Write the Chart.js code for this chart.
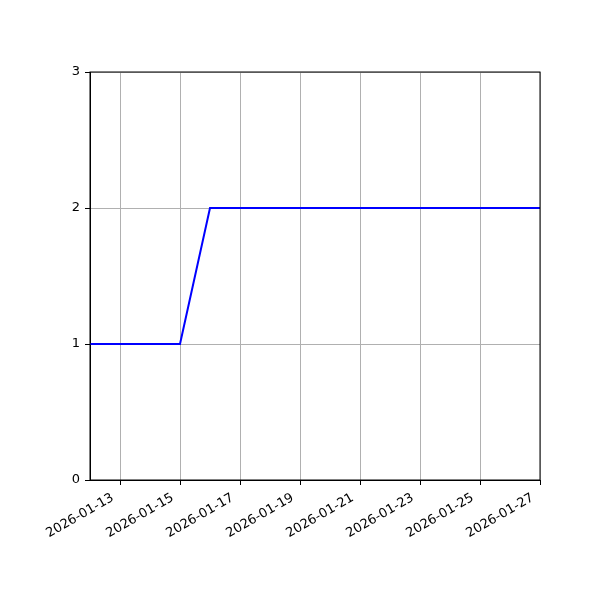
<!DOCTYPE html>
<html lang="en">
<head>
    <meta charset="UTF-8">
    <title>Step chart</title>
    <style>
        body { margin: 0; padding: 0; background: #fff; }
        .chart { width: 600px; height: 600px; }
    </style>
    <script src="https://cdn.jsdelivr.net/npm/chart.js"></script>
</head>
<body>
    <div class="chart">
        <canvas id="chartCanvas" width="600" height="600"></canvas>
    </div>

    <script>
        const dates = ['2026-01-12', '2026-01-13', '2026-01-14', '2026-01-15', '2026-01-16', '2026-01-17',
                       '2026-01-18', '2026-01-19', '2026-01-20', '2026-01-21', '2026-01-22', '2026-01-23',
                       '2026-01-24', '2026-01-25', '2026-01-26', '2026-01-27'];
        const values = [1, 1, 1, 1, 2, 2, 2, 2, 2, 2, 2, 2, 2, 2, 2, 2];
        const xTickLabels = ['2026-01-13', '2026-01-15', '2026-01-17', '2026-01-19',
                             '2026-01-21', '2026-01-23', '2026-01-25', '2026-01-27'];
        const yTicks = [0, 1, 2, 3];

        const toDay = d => Date.parse(d) / 86400000;
        const fromDay = n => new Date(n * 86400000).toISOString().slice(0, 10);

        const points = dates.map((d, i) => ({ x: toDay(d), y: values[i] }));

        // black box round the plot area
        const frame = {
            id: 'frame',
            afterDraw(chart) {
                const a = chart.chartArea;
                const ctx = chart.ctx;
                ctx.save();
                ctx.strokeStyle = '#000';
                ctx.lineWidth = 1;
                ctx.strokeRect(a.left, a.top, a.right - a.left, a.bottom - a.top);
                ctx.restore();
            }
        };

        Chart.defaults.font.family = "'DejaVu Sans', sans-serif";
        Chart.defaults.font.size = 13;
        Chart.defaults.color = '#000';

        new Chart(document.getElementById('chartCanvas').getContext('2d'), {
            type: 'line',
            data: {
                datasets: [{
                    data: points,
                    borderColor: '#0000ff',
                    borderWidth: 2,
                    pointRadius: 0,
                    tension: 0
                }]
            },
            options: {
                responsive: false,
                animation: false,
                layout: { padding: { top: 72, right: 60, left: 0, bottom: 0 } },
                plugins: { legend: { display: false }, tooltip: { enabled: false } },
                scales: {
                    x: {
                        type: 'linear',
                        min: toDay(dates[0]),
                        max: toDay(dates[dates.length - 1]),
                        afterBuildTicks: s => { s.ticks = xTickLabels.map(t => ({ value: toDay(t) })); },
                        afterFit: s => { s.height = 120; },
                        ticks: {
                            minRotation: 30,
                            maxRotation: 30,
                            padding: 1,
                            // trailing spaces pull the rotated label back under its tick
                            callback: v => fromDay(v) + '  '
                        },
                        grid: { color: '#b0b0b0', lineWidth: 1, tickColor: '#000', tickLength: 5 },
                        border: { color: '#000' }
                    },
                    y: {
                        min: 0,
                        max: 3,
                        afterBuildTicks: s => { s.ticks = yTicks.map(v => ({ value: v })); },
                        afterFit: s => { s.width = 90; },
                        ticks: { padding: 5 },
                        grid: { color: '#b0b0b0', lineWidth: 1, tickColor: '#000', tickLength: 5 },
                        border: { color: '#000' }
                    }
                }
            },
            plugins: [frame]
        });
    </script>
</body>
</html>
